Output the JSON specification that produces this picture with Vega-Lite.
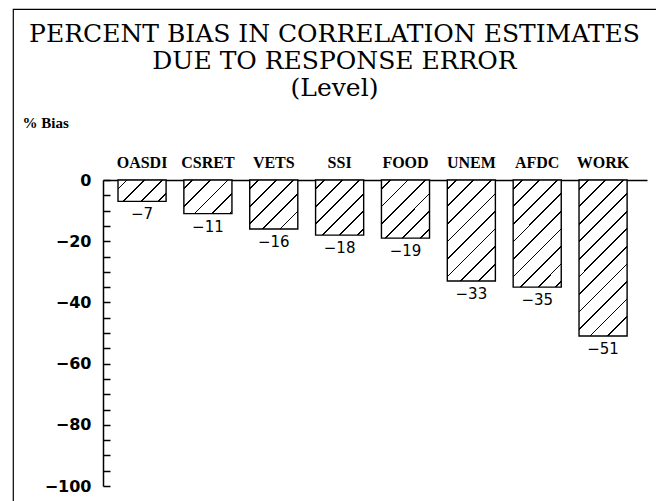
{
  "$schema": "https://vega.github.io/schema/vega-lite/v6.json",
  "width": 643,
  "height": 492,
  "autosize": {"type": "none"},
  "padding": {"left": 13, "top": 9, "right": 0, "bottom": 0},
  "background": "white",
  "config": {
    "view": {"stroke": "black", "strokeWidth": 1.2, "strokeDash": [643, 1135, 492]}
  },
  "title": {
    "text": ["PERCENT BIAS IN CORRELATION ESTIMATES", "DUE TO RESPONSE ERROR", "(Level)"],
    "font": "DejaVu Serif",
    "fontSize": 25,
    "fontWeight": "normal",
    "lineHeight": 27,
    "anchor": "middle",
    "frame": "group",
    "baseline": "top",
    "offset": -92,
    "color": "black"
  },
  "data": {
    "values": [
      {"program": "OASDI", "bias": -7},
      {"program": "CSRET", "bias": -11},
      {"program": "VETS", "bias": -16},
      {"program": "SSI", "bias": -18},
      {"program": "FOOD", "bias": -19},
      {"program": "UNEM", "bias": -33},
      {"program": "AFDC", "bias": -35},
      {"program": "WORK", "bias": -51}
    ]
  },
  "encoding": {
    "x": {
      "field": "program",
      "type": "nominal",
      "sort": null,
      "scale": {"range": [90, 634], "paddingInner": 0.27, "paddingOuter": 0.265, "align": 0.43},
      "axis": {
        "orient": "top",
        "offset": -171,
        "title": null,
        "ticks": false,
        "grid": false,
        "labelAngle": 0,
        "labelFont": "Liberation Serif",
        "labelFontWeight": "bold",
        "labelFontSize": 16,
        "labelColor": "black",
        "labelPadding": 10,
        "domainColor": "black",
        "domainWidth": 1.5
      }
    },
    "y": {
      "field": "bias",
      "type": "quantitative",
      "scale": {"domain": [-100, 0], "range": [477, 171], "nice": false, "zero": false},
      "axis": {
        "orient": "left",
        "offset": -90,
        "grid": false,
        "values": [0, -5, -10, -15, -20, -25, -30, -35, -40, -45, -50, -55, -60, -65, -70, -75, -80, -85, -90, -95, -100],
        "labelExpr": "datum.value % 20 === 0 ? datum.label : ''",
        "tickSize": -7,
        "tickColor": "black",
        "tickWidth": 1.5,
        "domainColor": "black",
        "domainWidth": 1.5,
        "labelFont": "DejaVu Sans",
        "labelFontWeight": "bold",
        "labelFontSize": 16,
        "labelColor": "black",
        "labelPadding": 19,
        "title": "% Bias",
        "titleAngle": 0,
        "titleX": -81,
        "titleY": 113,
        "titleAlign": "left",
        "titleBaseline": "middle",
        "titleFont": "Liberation Serif",
        "titleFontSize": 15,
        "titleFontWeight": "bold",
        "titleColor": "black"
      }
    }
  },
  "layer": [
    {
      "mark": {"type": "bar", "stroke": "black", "strokeWidth": 1.4},
      "encoding": {
        "y2": {"datum": 0},
        "fill": {
          "condition": [
            {"test": "datum.program === 'OASDI'", "value": {"gradient": "linear", "x1": 0, "y1": 0, "x2": 1.206, "y2": 0.5365, "stops": [
              {"offset": 0, "color": "white"},
              {"offset": 0.117, "color": "white"}, {"offset": 0.117, "color": "black"}, {"offset": 0.143, "color": "black"}, {"offset": 0.143, "color": "white"},
              {"offset": 0.369, "color": "white"}, {"offset": 0.369, "color": "black"}, {"offset": 0.395, "color": "black"}, {"offset": 0.395, "color": "white"},
              {"offset": 0.621, "color": "white"}, {"offset": 0.621, "color": "black"}, {"offset": 0.648, "color": "black"}, {"offset": 0.648, "color": "white"},
              {"offset": 0.874, "color": "white"}, {"offset": 0.874, "color": "black"}, {"offset": 0.9, "color": "black"}, {"offset": 0.9, "color": "white"},
              {"offset": 1, "color": "white"}]}},
            {"test": "datum.program === 'CSRET'", "value": {"gradient": "linear", "x1": 0, "y1": 0, "x2": 1.1414, "y2": 0.7978, "stops": [
              {"offset": 0, "color": "white"},
              {"offset": 0.099, "color": "white"}, {"offset": 0.099, "color": "black"}, {"offset": 0.121, "color": "black"}, {"offset": 0.121, "color": "white"},
              {"offset": 0.314, "color": "white"}, {"offset": 0.314, "color": "black"}, {"offset": 0.336, "color": "black"}, {"offset": 0.336, "color": "white"},
              {"offset": 0.529, "color": "white"}, {"offset": 0.529, "color": "black"}, {"offset": 0.551, "color": "black"}, {"offset": 0.551, "color": "white"},
              {"offset": 0.743, "color": "white"}, {"offset": 0.743, "color": "black"}, {"offset": 0.765, "color": "black"}, {"offset": 0.765, "color": "white"},
              {"offset": 0.958, "color": "white"}, {"offset": 0.958, "color": "black"}, {"offset": 0.98, "color": "black"}, {"offset": 0.98, "color": "white"},
              {"offset": 1, "color": "white"}]}},
            {"test": "datum.program === 'VETS'", "value": {"gradient": "linear", "x1": 0, "y1": 0, "x2": 0.9917, "y2": 1.0082, "stops": [
              {"offset": 0, "color": "white"},
              {"offset": 0.084, "color": "white"}, {"offset": 0.084, "color": "black"}, {"offset": 0.102, "color": "black"}, {"offset": 0.102, "color": "white"},
              {"offset": 0.264, "color": "white"}, {"offset": 0.264, "color": "black"}, {"offset": 0.283, "color": "black"}, {"offset": 0.283, "color": "white"},
              {"offset": 0.445, "color": "white"}, {"offset": 0.445, "color": "black"}, {"offset": 0.464, "color": "black"}, {"offset": 0.464, "color": "white"},
              {"offset": 0.626, "color": "white"}, {"offset": 0.626, "color": "black"}, {"offset": 0.645, "color": "black"}, {"offset": 0.645, "color": "white"},
              {"offset": 0.807, "color": "white"}, {"offset": 0.807, "color": "black"}, {"offset": 0.825, "color": "black"}, {"offset": 0.825, "color": "white"},
              {"offset": 1, "color": "white"}]}},
            {"test": "datum.program === 'SSI'", "value": {"gradient": "linear", "x1": 0, "y1": 0, "x2": 0.9288, "y2": 1.0623, "stops": [
              {"offset": 0, "color": "white"},
              {"offset": 0.079, "color": "white"}, {"offset": 0.079, "color": "black"}, {"offset": 0.096, "color": "black"}, {"offset": 0.096, "color": "white"},
              {"offset": 0.249, "color": "white"}, {"offset": 0.249, "color": "black"}, {"offset": 0.266, "color": "black"}, {"offset": 0.266, "color": "white"},
              {"offset": 0.419, "color": "white"}, {"offset": 0.419, "color": "black"}, {"offset": 0.436, "color": "black"}, {"offset": 0.436, "color": "white"},
              {"offset": 0.589, "color": "white"}, {"offset": 0.589, "color": "black"}, {"offset": 0.606, "color": "black"}, {"offset": 0.606, "color": "white"},
              {"offset": 0.759, "color": "white"}, {"offset": 0.759, "color": "black"}, {"offset": 0.776, "color": "black"}, {"offset": 0.776, "color": "white"},
              {"offset": 0.929, "color": "white"}, {"offset": 0.929, "color": "black"}, {"offset": 0.947, "color": "black"}, {"offset": 0.947, "color": "white"},
              {"offset": 1, "color": "white"}]}},
            {"test": "datum.program === 'FOOD'", "value": {"gradient": "linear", "x1": 0, "y1": 0, "x2": 0.8982, "y2": 1.0843, "stops": [
              {"offset": 0, "color": "white"},
              {"offset": 0.076, "color": "white"}, {"offset": 0.076, "color": "black"}, {"offset": 0.093, "color": "black"}, {"offset": 0.093, "color": "white"},
              {"offset": 0.242, "color": "white"}, {"offset": 0.242, "color": "black"}, {"offset": 0.259, "color": "black"}, {"offset": 0.259, "color": "white"},
              {"offset": 0.407, "color": "white"}, {"offset": 0.407, "color": "black"}, {"offset": 0.424, "color": "black"}, {"offset": 0.424, "color": "white"},
              {"offset": 0.572, "color": "white"}, {"offset": 0.572, "color": "black"}, {"offset": 0.589, "color": "black"}, {"offset": 0.589, "color": "white"},
              {"offset": 0.737, "color": "white"}, {"offset": 0.737, "color": "black"}, {"offset": 0.754, "color": "black"}, {"offset": 0.754, "color": "white"},
              {"offset": 0.902, "color": "white"}, {"offset": 0.902, "color": "black"}, {"offset": 0.919, "color": "black"}, {"offset": 0.919, "color": "white"},
              {"offset": 1, "color": "white"}]}},
            {"test": "datum.program === 'UNEM'", "value": {"gradient": "linear", "x1": 0, "y1": 0, "x2": 0.5738, "y2": 1.2032, "stops": [
              {"offset": 0, "color": "white"},
              {"offset": 0.054, "color": "white"}, {"offset": 0.054, "color": "black"}, {"offset": 0.067, "color": "black"}, {"offset": 0.067, "color": "white"},
              {"offset": 0.172, "color": "white"}, {"offset": 0.172, "color": "black"}, {"offset": 0.184, "color": "black"}, {"offset": 0.184, "color": "white"},
              {"offset": 0.29, "color": "white"}, {"offset": 0.29, "color": "black"}, {"offset": 0.302, "color": "black"}, {"offset": 0.302, "color": "white"},
              {"offset": 0.408, "color": "white"}, {"offset": 0.408, "color": "black"}, {"offset": 0.42, "color": "black"}, {"offset": 0.42, "color": "white"},
              {"offset": 0.525, "color": "white"}, {"offset": 0.525, "color": "black"}, {"offset": 0.538, "color": "black"}, {"offset": 0.538, "color": "white"},
              {"offset": 0.643, "color": "white"}, {"offset": 0.643, "color": "black"}, {"offset": 0.655, "color": "black"}, {"offset": 0.655, "color": "white"},
              {"offset": 0.761, "color": "white"}, {"offset": 0.761, "color": "black"}, {"offset": 0.773, "color": "black"}, {"offset": 0.773, "color": "white"},
              {"offset": 0.879, "color": "white"}, {"offset": 0.879, "color": "black"}, {"offset": 0.891, "color": "black"}, {"offset": 0.891, "color": "white"},
              {"offset": 1, "color": "white"}]}},
            {"test": "datum.program === 'AFDC'", "value": {"gradient": "linear", "x1": 0, "y1": 0, "x2": 0.5422, "y2": 1.2058, "stops": [
              {"offset": 0, "color": "white"},
              {"offset": 0.052, "color": "white"}, {"offset": 0.052, "color": "black"}, {"offset": 0.064, "color": "black"}, {"offset": 0.064, "color": "white"},
              {"offset": 0.165, "color": "white"}, {"offset": 0.165, "color": "black"}, {"offset": 0.177, "color": "black"}, {"offset": 0.177, "color": "white"},
              {"offset": 0.278, "color": "white"}, {"offset": 0.278, "color": "black"}, {"offset": 0.29, "color": "black"}, {"offset": 0.29, "color": "white"},
              {"offset": 0.392, "color": "white"}, {"offset": 0.392, "color": "black"}, {"offset": 0.403, "color": "black"}, {"offset": 0.403, "color": "white"},
              {"offset": 0.505, "color": "white"}, {"offset": 0.505, "color": "black"}, {"offset": 0.516, "color": "black"}, {"offset": 0.516, "color": "white"},
              {"offset": 0.618, "color": "white"}, {"offset": 0.618, "color": "black"}, {"offset": 0.629, "color": "black"}, {"offset": 0.629, "color": "white"},
              {"offset": 0.731, "color": "white"}, {"offset": 0.731, "color": "black"}, {"offset": 0.743, "color": "black"}, {"offset": 0.743, "color": "white"},
              {"offset": 0.844, "color": "white"}, {"offset": 0.844, "color": "black"}, {"offset": 0.856, "color": "black"}, {"offset": 0.856, "color": "white"},
              {"offset": 0.957, "color": "white"}, {"offset": 0.957, "color": "black"}, {"offset": 0.969, "color": "black"}, {"offset": 0.969, "color": "white"},
              {"offset": 1, "color": "white"}]}},
            {"test": "datum.program === 'WORK'", "value": {"gradient": "linear", "x1": 0, "y1": 0, "x2": 0.3687, "y2": 1.1948, "stops": [
              {"offset": 0, "color": "white"},
              {"offset": 0.04, "color": "white"}, {"offset": 0.04, "color": "black"}, {"offset": 0.049, "color": "black"}, {"offset": 0.049, "color": "white"},
              {"offset": 0.126, "color": "white"}, {"offset": 0.126, "color": "black"}, {"offset": 0.135, "color": "black"}, {"offset": 0.135, "color": "white"},
              {"offset": 0.212, "color": "white"}, {"offset": 0.212, "color": "black"}, {"offset": 0.221, "color": "black"}, {"offset": 0.221, "color": "white"},
              {"offset": 0.298, "color": "white"}, {"offset": 0.298, "color": "black"}, {"offset": 0.307, "color": "black"}, {"offset": 0.307, "color": "white"},
              {"offset": 0.384, "color": "white"}, {"offset": 0.384, "color": "black"}, {"offset": 0.393, "color": "black"}, {"offset": 0.393, "color": "white"},
              {"offset": 0.47, "color": "white"}, {"offset": 0.47, "color": "black"}, {"offset": 0.478, "color": "black"}, {"offset": 0.478, "color": "white"},
              {"offset": 0.556, "color": "white"}, {"offset": 0.556, "color": "black"}, {"offset": 0.564, "color": "black"}, {"offset": 0.564, "color": "white"},
              {"offset": 0.642, "color": "white"}, {"offset": 0.642, "color": "black"}, {"offset": 0.65, "color": "black"}, {"offset": 0.65, "color": "white"},
              {"offset": 0.728, "color": "white"}, {"offset": 0.728, "color": "black"}, {"offset": 0.736, "color": "black"}, {"offset": 0.736, "color": "white"},
              {"offset": 0.814, "color": "white"}, {"offset": 0.814, "color": "black"}, {"offset": 0.822, "color": "black"}, {"offset": 0.822, "color": "white"},
              {"offset": 0.9, "color": "white"}, {"offset": 0.9, "color": "black"}, {"offset": 0.908, "color": "black"}, {"offset": 0.908, "color": "white"},
              {"offset": 1, "color": "white"}]}}
          ],
          "value": "white"
        }
      }
    },
    {
      "mark": {"type": "text", "baseline": "top", "dy": 6, "font": "DejaVu Sans", "fontSize": 15, "color": "black"},
      "encoding": {
        "text": {"field": "bias", "type": "quantitative", "format": "d"}
      }
    }
  ]
}
